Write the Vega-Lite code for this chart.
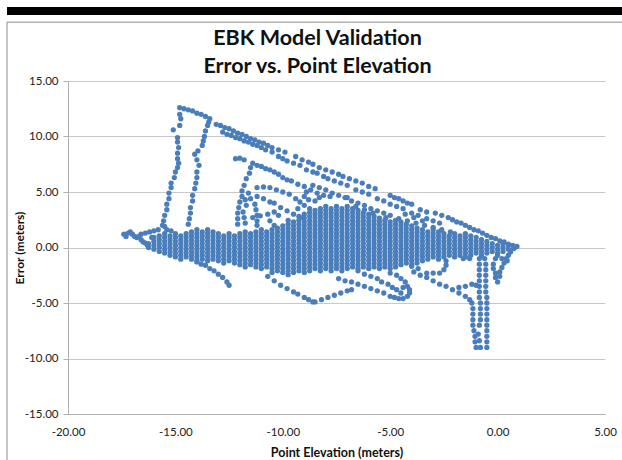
{"$schema":"https://vega.github.io/schema/vega-lite/v6.json","width":537,"height":333,"autosize":{"type":"none"},"padding":{"left":68,"top":81,"right":17,"bottom":46},"background":"white","config":{"view":{"stroke":null},"font":"Lato"},
"title":{"text":["EBK Model Validation","Error vs. Point Elevation"],"font":"Lato","fontSize":21.5,"fontWeight":"bold","color":"#111111","lineHeight":28,"anchor":"middle","dx":-19,"offset":-71},
"datasets":{"points":[
{"x":-17.4,"y":1.2},{"x":-17.3,"y":1},{"x":-17.2,"y":1.3},{"x":-17.1,"y":1.4},{"x":-17,"y":1.2},{"x":-16.9,"y":1},{"x":-16.8,"y":0.9},{"x":-16.7,"y":1},{"x":-16.6,"y":0.7},{"x":-16.5,"y":0.5},{"x":-16.4,"y":0.4},{"x":-16.3,"y":0.2},{"x":-16.6,"y":1.2},{"x":-16.4,"y":1.3},{"x":-16.2,"y":1.4},{"x":-16,"y":1.5},{"x":-15.8,"y":1.6},{"x":-15.6,"y":2},{"x":-15.5,"y":1.9},{"x":-15.4,"y":1.6},{"x":-15.2,"y":1.5},{"x":-16.1,"y":0.9},
{"x":-15.55,"y":2.4},{"x":-15.5,"y":2.9},{"x":-15.4,"y":3.4},{"x":-15.4,"y":3.9},{"x":-15.3,"y":4.4},{"x":-15.3,"y":4.9},{"x":-15.2,"y":5.4},{"x":-15.2,"y":5.8},{"x":-15.05,"y":6.3},{"x":-15,"y":6.8},{"x":-14.9,"y":7.2},{"x":-14.85,"y":7.6},{"x":-14.9,"y":8},{"x":-14.9,"y":8.5},{"x":-14.85,"y":9},{"x":-14.9,"y":9.5},{"x":-14.9,"y":9.9},{"x":-14.8,"y":11},{"x":-15.1,"y":10.6},{"x":-14.8,"y":12},{"x":-14.75,"y":11.6},
{"x":-14.4,"y":2.1},{"x":-14.35,"y":2.6},{"x":-14.3,"y":3.1},{"x":-14.3,"y":3.6},{"x":-14.2,"y":4.2},{"x":-14.2,"y":4.7},{"x":-14.1,"y":5.3},{"x":-14.05,"y":5.8},{"x":-14,"y":6.3},{"x":-14,"y":6.8},{"x":-13.9,"y":7.4},{"x":-14,"y":7.9},{"x":-14.1,"y":8.4},{"x":-13.95,"y":8.7},{"x":-13.75,"y":9.2},{"x":-13.7,"y":9.6},{"x":-13.65,"y":10},{"x":-13.6,"y":10.5},{"x":-13.5,"y":11},{"x":-13.45,"y":11.3},
{"x":-14.8,"y":12.6},{"x":-14.6,"y":12.5},{"x":-14.4,"y":12.4},{"x":-14.2,"y":12.3},{"x":-14,"y":12.1},{"x":-13.8,"y":12},{"x":-13.6,"y":11.8},{"x":-13.4,"y":11.6},{"x":-13.1,"y":11.1},{"x":-12.9,"y":11},{"x":-12.7,"y":10.8},{"x":-12.5,"y":10.7},{"x":-12.3,"y":10.5},{"x":-12.1,"y":10.3},{"x":-11.9,"y":10.2},{"x":-11.7,"y":10},{"x":-11.5,"y":9.8},{"x":-11.3,"y":9.7},{"x":-11.1,"y":9.5},{"x":-10.9,"y":9.4},{"x":-10.7,"y":9.2},{"x":-10.5,"y":9},{"x":-10.2,"y":8.8},{"x":-9.9,"y":8.6},{"x":-9.4,"y":8.2},{"x":-9.1,"y":7.9},{"x":-8.8,"y":7.7},{"x":-8.6,"y":7.5},{"x":-8.3,"y":7.2},{"x":-8,"y":7},{"x":-7.7,"y":6.8},{"x":-7.4,"y":6.6},{"x":-7.2,"y":6.4},{"x":-6.9,"y":6.2},{"x":-6.6,"y":6},{"x":-6.3,"y":5.8},{"x":-6,"y":5.5},{"x":-5.7,"y":5.3},{"x":-5,"y":4.7},{"x":-4.8,"y":4.5},{"x":-4.6,"y":4.4},{"x":-4.4,"y":4.2},{"x":-4.2,"y":4},{"x":-4,"y":3.9},{"x":-3.6,"y":3.4},{"x":-3.3,"y":3.2},{"x":-2.9,"y":3.1},{"x":-2.6,"y":2.9},{"x":-2.3,"y":2.7},{"x":-2.1,"y":2.5},{"x":-1.9,"y":2.3},{"x":-1.7,"y":2.2},{"x":-1.5,"y":2},{"x":-1.3,"y":1.8},{"x":-1.1,"y":1.6},{"x":-0.9,"y":1.5},{"x":-0.7,"y":1.3},{"x":-0.5,"y":1.1},{"x":-0.3,"y":0.9},{"x":-0.1,"y":0.8},{"x":0.1,"y":0.6},{"x":0.3,"y":0.5},{"x":0.5,"y":0.3},{"x":0.7,"y":0.2},{"x":0.9,"y":0.1},
{"x":-12.8,"y":10.4},{"x":-12.6,"y":10.2},{"x":-12.4,"y":10.1},{"x":-12.2,"y":9.9},{"x":-12,"y":9.8},{"x":-11.8,"y":9.6},{"x":-11.6,"y":9.5},{"x":-11.4,"y":9.3},{"x":-11.2,"y":9.2},{"x":-11,"y":9},{"x":-10.8,"y":8.8},{"x":-10.5,"y":8.6},{"x":-10.2,"y":8.2},{"x":-10,"y":8},{"x":-9.8,"y":7.8},{"x":-9.5,"y":7.6},{"x":-9.2,"y":7.4},{"x":-8.9,"y":7},{"x":-8.6,"y":6.8},{"x":-8.4,"y":6.7},{"x":-8.1,"y":6.4},{"x":-7.9,"y":6.2},{"x":-7.6,"y":6},{"x":-7.3,"y":5.8},{"x":-7,"y":5.6},{"x":-6.6,"y":5.2},{"x":-6.3,"y":5},{"x":-6,"y":4.8},{"x":-5.6,"y":4.4},{"x":-5.3,"y":4.2},{"x":-5,"y":3.9},{"x":-4.7,"y":3.7},{"x":-4.4,"y":3.5},{"x":-4,"y":3.1},{"x":-3.7,"y":2.9},{"x":-3.3,"y":2.6},{"x":-3,"y":2.4},{"x":-2.7,"y":2.2},
{"x":-12.2,"y":8},{"x":-12,"y":8.05},{"x":-11.8,"y":7.9},{"x":-11.4,"y":7.6},{"x":-11.2,"y":7.4},{"x":-11,"y":7.3},{"x":-10.8,"y":7.1},{"x":-10.6,"y":7},{"x":-10.4,"y":6.8},{"x":-10.2,"y":6.6},{"x":-10,"y":6.3},{"x":-9.8,"y":6.1},{"x":-9.6,"y":6},{"x":-9.3,"y":5.7},{"x":-9,"y":5.5},{"x":-8.7,"y":5.2},{"x":-8.4,"y":4.9},{"x":-8.1,"y":4.7},{"x":-7.8,"y":4.6},
{"x":-8.6,"y":5.6},{"x":-8.3,"y":5.4},{"x":-8,"y":5.2},{"x":-7.7,"y":4.9},{"x":-7.4,"y":4.7},{"x":-7.1,"y":4.5},{"x":-6.8,"y":4.2},{"x":-6.5,"y":4},{"x":-6.2,"y":3.8},{"x":-5.9,"y":3.5},{"x":-5.6,"y":3.3},{"x":-5.3,"y":3.1},{"x":-5,"y":2.9},{"x":-4.6,"y":2.6},
{"x":-11.5,"y":7.2},{"x":-11.55,"y":6.7},{"x":-11.7,"y":6.2},{"x":-11.8,"y":5.6},{"x":-11.9,"y":5.1},{"x":-11.9,"y":4.6},{"x":-12,"y":4.1},{"x":-12.05,"y":3.6},{"x":-12.1,"y":3.1},{"x":-12.1,"y":2.6},{"x":-12.1,"y":2.1},{"x":-11.85,"y":3.2},{"x":-11.8,"y":2.7},{"x":-11.75,"y":2.2},{"x":-11.75,"y":4.3},{"x":-11.7,"y":3.8},
{"x":-11.2,"y":5.4},{"x":-10.9,"y":5.45},{"x":-10.6,"y":5.4},{"x":-10.3,"y":5.2},{"x":-10,"y":5},{"x":-9.7,"y":4.8},{"x":-9.4,"y":4.4},{"x":-9.2,"y":4.1},
{"x":-11.6,"y":4.9},{"x":-11.5,"y":4.4},{"x":-11.3,"y":3.9},{"x":-11.25,"y":3.4},{"x":-11.2,"y":2.9},{"x":-11.2,"y":2.4},{"x":-11.2,"y":2},
{"x":-11.2,"y":4.6},{"x":-10.9,"y":4.4},{"x":-10.6,"y":4.1},{"x":-10.4,"y":4},{"x":-10.1,"y":3.6},{"x":-9.8,"y":3.3},{"x":-9.5,"y":3},{"x":-9.2,"y":2.7},
{"x":-10.7,"y":3},{"x":-11.05,"y":2.85},{"x":-11.4,"y":2.7},{"x":-10.4,"y":3.2},{"x":-10.2,"y":2.9},{"x":-10.6,"y":2.4},{"x":-10.4,"y":2},
{"x":-9.3,"y":3.5},{"x":-9,"y":3.8},{"x":-8.8,"y":4.3},{"x":-8.5,"y":4.2},{"x":-8.3,"y":4.5},{"x":-9,"y":4.6},{"x":-8.9,"y":5},{"x":-7,"y":4.5},{"x":-6.6,"y":3.7},{"x":-6.2,"y":3.4},{"x":-5.8,"y":3.1},{"x":-5.2,"y":2.7},{"x":-4.2,"y":2.4},{"x":-3.8,"y":2.2},{"x":-3.4,"y":2},{"x":-3,"y":1.8},{"x":-2.6,"y":1.6},{"x":-2.2,"y":1.4},{"x":-4.3,"y":3},{"x":-3.9,"y":2.7},{"x":-3.5,"y":2.4},
{"x":-14,"y":-1.3},{"x":-13.8,"y":-1.5},{"x":-13.6,"y":-1.6},{"x":-13.4,"y":-1.9},{"x":-13.2,"y":-2.1},{"x":-13,"y":-2.4},{"x":-12.8,"y":-2.7},{"x":-12.6,"y":-3.1},{"x":-12.5,"y":-3.4},
{"x":-10.7,"y":-2.6},{"x":-10.4,"y":-3},{"x":-10.1,"y":-3.4},{"x":-9.8,"y":-3.7},{"x":-9.5,"y":-4},{"x":-9.3,"y":-4.2},{"x":-9,"y":-4.5},{"x":-8.8,"y":-4.7},{"x":-8.6,"y":-4.9},{"x":-8.5,"y":-4.9},{"x":-8.2,"y":-4.7},{"x":-7.9,"y":-4.5},{"x":-7.6,"y":-4.3},{"x":-7.3,"y":-4.1},{"x":-7,"y":-3.9},{"x":-6.8,"y":-3.8},
{"x":-7.4,"y":-2.8},{"x":-7.1,"y":-3},{"x":-6.8,"y":-3.1},{"x":-6.5,"y":-3.3},{"x":-6.2,"y":-3.5},{"x":-5.9,"y":-3.7},{"x":-5.6,"y":-3.9},{"x":-5.3,"y":-4.1},{"x":-5,"y":-4.4},{"x":-4.8,"y":-4.5},{"x":-4.6,"y":-4.6},{"x":-4.4,"y":-4.6},{"x":-4.2,"y":-4.4},{"x":-4.1,"y":-4.1},{"x":-4.1,"y":-3.8},{"x":-4.2,"y":-3.5},{"x":-4.3,"y":-3.1},{"x":-4.5,"y":-2.8},{"x":-4.7,"y":-2.5},{"x":-5,"y":-2.3},{"x":-6.2,"y":-2.4},{"x":-5.9,"y":-2.6},{"x":-5.6,"y":-2.8},{"x":-5.4,"y":-3.1},{"x":-5.1,"y":-3.3},{"x":-4.9,"y":-3.6},{"x":-4.7,"y":-3.8},{"x":-4.5,"y":-4.1},{"x":-6.5,"y":-2.1},{"x":-4.4,"y":-3.6},
{"x":-3.9,"y":-2.2},{"x":-3.6,"y":-2.5},{"x":-3.3,"y":-2.7},{"x":-3,"y":-3},{"x":-2.7,"y":-3.3},{"x":-2.4,"y":-3.5},{"x":-2.1,"y":-3.8},{"x":-1.8,"y":-4.1},{"x":-1.5,"y":-4.4},{"x":-1.3,"y":-4.7},{"x":-1.2,"y":-5},{"x":-1.15,"y":-5.5},{"x":-1.15,"y":-6},{"x":-1.15,"y":-6.5},{"x":-1.15,"y":-7},{"x":-1.1,"y":-7.5},{"x":-1.05,"y":-8},{"x":-1.05,"y":-8.5},{"x":-1,"y":-9},{"x":-0.8,"y":-9},{"x":-0.85,"y":-8.4},{"x":-0.9,"y":-7.8},{"x":-0.85,"y":-7},{"x":-0.8,"y":-6.5},{"x":-0.8,"y":-6},{"x":-0.8,"y":-5.5},{"x":-0.8,"y":-5},
{"x":-0.5,"y":-9},{"x":-0.5,"y":-8.5},{"x":-0.5,"y":-8},{"x":-0.5,"y":-7.5},{"x":-0.5,"y":-7},{"x":-0.5,"y":-6.5},{"x":-0.5,"y":-6},{"x":-0.5,"y":-5.5},{"x":-0.5,"y":-5},{"x":-0.5,"y":-4.5},{"x":-0.55,"y":-4},{"x":-0.55,"y":-3.5},{"x":-0.55,"y":-3},{"x":-0.55,"y":-2.5},{"x":-0.55,"y":-2},{"x":-0.55,"y":-1.5},{"x":-0.6,"y":-1},{"x":-0.85,"y":-4.5},{"x":-0.85,"y":-4},{"x":-0.85,"y":-3.5},{"x":-0.85,"y":-3},{"x":-0.85,"y":-2.5},{"x":-0.85,"y":-2},{"x":-0.85,"y":-1.5},{"x":-0.85,"y":-1},
{"x":-1.8,"y":-3.6},{"x":-1.5,"y":-3.5},{"x":-1.2,"y":-3.3},{"x":-1,"y":-3.4},
{"x":-3.3,"y":-2.3},{"x":-3,"y":-2.3},{"x":-2.7,"y":-2.3},{"x":-2.5,"y":-2},{"x":-2.4,"y":-1.6},{"x":-2.4,"y":-1.2},{"x":-4,"y":-1.7},{"x":-3.7,"y":-1.9},{"x":-1.3,"y":-1},{"x":-1.6,"y":-1},
{"x":0,"y":-3.1},{"x":-0.1,"y":-2.7},{"x":-0.1,"y":-2.3},{"x":-0.2,"y":-1.9},{"x":-0.2,"y":-1.5},{"x":-0.1,"y":-1},{"x":0.1,"y":-2.6},{"x":0.1,"y":-2.2},{"x":0.2,"y":-1.8},{"x":0.3,"y":-1.4},{"x":0.4,"y":-1},{"x":0.45,"y":-1.2},{"x":0.5,"y":-0.7},{"x":0.6,"y":-0.4},{"x":0,"y":-0.7},{"x":0.2,"y":-1},{"x":0.8,"y":0},
{"x":-16.25,"y":0},{"x":-16.25,"y":0.35},
{"x":-16,"y":-0.15},{"x":-16,"y":0.2},{"x":-16,"y":0.55},{"x":-16,"y":0.9},
{"x":-15.75,"y":-0.35},{"x":-15.75,"y":0},{"x":-15.75,"y":0.35},{"x":-15.75,"y":0.7},{"x":-15.75,"y":1.05},
{"x":-15.5,"y":-0.5},{"x":-15.5,"y":-0.15},{"x":-15.5,"y":0.2},{"x":-15.5,"y":0.55},{"x":-15.5,"y":0.9},{"x":-15.5,"y":1.25},
{"x":-15.25,"y":-0.7},{"x":-15.25,"y":-0.35},{"x":-15.25,"y":0},{"x":-15.25,"y":0.35},{"x":-15.25,"y":0.7},{"x":-15.25,"y":1.05},
{"x":-15,"y":-0.85},{"x":-15,"y":-0.5},{"x":-15,"y":-0.15},{"x":-15,"y":0.2},{"x":-15,"y":0.55},{"x":-15,"y":0.9},{"x":-15,"y":1.25},
{"x":-14.75,"y":-1.05},{"x":-14.75,"y":-0.7},{"x":-14.75,"y":-0.35},{"x":-14.75,"y":0},{"x":-14.75,"y":0.35},{"x":-14.75,"y":0.7},{"x":-14.75,"y":1.05},
{"x":-14.5,"y":-0.85},{"x":-14.5,"y":-0.5},{"x":-14.5,"y":-0.15},{"x":-14.5,"y":0.2},{"x":-14.5,"y":0.55},{"x":-14.5,"y":0.9},{"x":-14.5,"y":1.25},
{"x":-14.25,"y":-1.05},{"x":-14.25,"y":-0.7},{"x":-14.25,"y":-0.35},{"x":-14.25,"y":0},{"x":-14.25,"y":0.35},{"x":-14.25,"y":0.7},{"x":-14.25,"y":1.05},{"x":-14.25,"y":1.4},
{"x":-14,"y":-1.2},{"x":-14,"y":-0.85},{"x":-14,"y":-0.5},{"x":-14,"y":-0.15},{"x":-14,"y":0.2},{"x":-14,"y":0.55},{"x":-14,"y":0.9},{"x":-14,"y":1.25},{"x":-14,"y":1.6},
{"x":-13.75,"y":-1.05},{"x":-13.75,"y":-0.7},{"x":-13.75,"y":-0.35},{"x":-13.75,"y":0},{"x":-13.75,"y":0.35},{"x":-13.75,"y":0.7},{"x":-13.75,"y":1.05},{"x":-13.75,"y":1.4},
{"x":-13.5,"y":-1.2},{"x":-13.5,"y":-0.85},{"x":-13.5,"y":-0.5},{"x":-13.5,"y":-0.15},{"x":-13.5,"y":0.2},{"x":-13.5,"y":0.55},{"x":-13.5,"y":0.9},{"x":-13.5,"y":1.25},{"x":-13.5,"y":1.6},
{"x":-13.25,"y":-1.05},{"x":-13.25,"y":-0.7},{"x":-13.25,"y":-0.35},{"x":-13.25,"y":0},{"x":-13.25,"y":0.35},{"x":-13.25,"y":0.7},{"x":-13.25,"y":1.05},{"x":-13.25,"y":1.4},
{"x":-13,"y":-1.2},{"x":-13,"y":-0.85},{"x":-13,"y":-0.5},{"x":-13,"y":-0.15},{"x":-13,"y":0.2},{"x":-13,"y":0.55},{"x":-13,"y":0.9},{"x":-13,"y":1.25},
{"x":-12.75,"y":-1.4},{"x":-12.75,"y":-1.05},{"x":-12.75,"y":-0.7},{"x":-12.75,"y":-0.35},{"x":-12.75,"y":0},{"x":-12.75,"y":0.35},{"x":-12.75,"y":0.7},{"x":-12.75,"y":1.05},
{"x":-12.5,"y":-1.2},{"x":-12.5,"y":-0.85},{"x":-12.5,"y":-0.5},{"x":-12.5,"y":-0.15},{"x":-12.5,"y":0.2},{"x":-12.5,"y":0.55},{"x":-12.5,"y":0.9},{"x":-12.5,"y":1.25},
{"x":-12.25,"y":-1.4},{"x":-12.25,"y":-1.05},{"x":-12.25,"y":-0.7},{"x":-12.25,"y":-0.35},{"x":-12.25,"y":0},{"x":-12.25,"y":0.35},{"x":-12.25,"y":0.7},{"x":-12.25,"y":1.05},
{"x":-12,"y":-1.55},{"x":-12,"y":-1.2},{"x":-12,"y":-0.85},{"x":-12,"y":-0.5},{"x":-12,"y":-0.15},{"x":-12,"y":0.2},{"x":-12,"y":0.55},{"x":-12,"y":0.9},{"x":-12,"y":1.25},
{"x":-11.75,"y":-1.75},{"x":-11.75,"y":-1.4},{"x":-11.75,"y":-1.05},{"x":-11.75,"y":-0.7},{"x":-11.75,"y":-0.35},{"x":-11.75,"y":0},{"x":-11.75,"y":0.35},{"x":-11.75,"y":0.7},{"x":-11.75,"y":1.05},{"x":-11.75,"y":1.4},
{"x":-11.5,"y":-1.55},{"x":-11.5,"y":-1.2},{"x":-11.5,"y":-0.85},{"x":-11.5,"y":-0.5},{"x":-11.5,"y":-0.15},{"x":-11.5,"y":0.2},{"x":-11.5,"y":0.55},{"x":-11.5,"y":0.9},{"x":-11.5,"y":1.25},
{"x":-11.25,"y":-1.75},{"x":-11.25,"y":-1.4},{"x":-11.25,"y":-1.05},{"x":-11.25,"y":-0.7},{"x":-11.25,"y":-0.35},{"x":-11.25,"y":0},{"x":-11.25,"y":0.35},{"x":-11.25,"y":0.7},{"x":-11.25,"y":1.05},{"x":-11.25,"y":1.4},
{"x":-11,"y":-1.9},{"x":-11,"y":-1.55},{"x":-11,"y":-1.2},{"x":-11,"y":-0.85},{"x":-11,"y":-0.5},{"x":-11,"y":-0.15},{"x":-11,"y":0.2},{"x":-11,"y":0.55},{"x":-11,"y":0.9},{"x":-11,"y":1.25},{"x":-11,"y":1.6},
{"x":-10.75,"y":-1.75},{"x":-10.75,"y":-1.4},{"x":-10.75,"y":-1.05},{"x":-10.75,"y":-0.7},{"x":-10.75,"y":-0.35},{"x":-10.75,"y":0},{"x":-10.75,"y":0.35},{"x":-10.75,"y":0.7},{"x":-10.75,"y":1.05},{"x":-10.75,"y":1.4},
{"x":-10.5,"y":-2.25},{"x":-10.5,"y":-1.9},{"x":-10.5,"y":-1.55},{"x":-10.5,"y":-1.2},{"x":-10.5,"y":-0.85},{"x":-10.5,"y":-0.5},{"x":-10.5,"y":-0.15},{"x":-10.5,"y":0.2},{"x":-10.5,"y":0.55},{"x":-10.5,"y":0.9},{"x":-10.5,"y":1.25},{"x":-10.5,"y":1.6},
{"x":-10.25,"y":-2.1},{"x":-10.25,"y":-1.75},{"x":-10.25,"y":-1.4},{"x":-10.25,"y":-1.05},{"x":-10.25,"y":-0.7},{"x":-10.25,"y":-0.35},{"x":-10.25,"y":0},{"x":-10.25,"y":0.35},{"x":-10.25,"y":0.7},{"x":-10.25,"y":1.05},{"x":-10.25,"y":1.4},{"x":-10.25,"y":1.75},
{"x":-10,"y":-2.25},{"x":-10,"y":-1.9},{"x":-10,"y":-1.55},{"x":-10,"y":-1.2},{"x":-10,"y":-0.85},{"x":-10,"y":-0.5},{"x":-10,"y":-0.15},{"x":-10,"y":0.2},{"x":-10,"y":0.55},{"x":-10,"y":0.9},{"x":-10,"y":1.25},{"x":-10,"y":1.6},{"x":-10,"y":1.95},
{"x":-9.75,"y":-2.45},{"x":-9.75,"y":-2.1},{"x":-9.75,"y":-1.75},{"x":-9.75,"y":-1.4},{"x":-9.75,"y":-1.05},{"x":-9.75,"y":-0.7},{"x":-9.75,"y":-0.35},{"x":-9.75,"y":0},{"x":-9.75,"y":0.35},{"x":-9.75,"y":0.7},{"x":-9.75,"y":1.05},{"x":-9.75,"y":1.4},{"x":-9.75,"y":1.75},{"x":-9.75,"y":2.1},{"x":-9.75,"y":2.45},
{"x":-9.5,"y":-2.25},{"x":-9.5,"y":-1.9},{"x":-9.5,"y":-1.55},{"x":-9.5,"y":-1.2},{"x":-9.5,"y":-0.85},{"x":-9.5,"y":-0.5},{"x":-9.5,"y":-0.15},{"x":-9.5,"y":0.2},{"x":-9.5,"y":0.55},{"x":-9.5,"y":0.9},{"x":-9.5,"y":1.25},{"x":-9.5,"y":1.6},{"x":-9.5,"y":1.95},{"x":-9.5,"y":2.3},
{"x":-9.25,"y":-2.1},{"x":-9.25,"y":-1.75},{"x":-9.25,"y":-1.4},{"x":-9.25,"y":-1.05},{"x":-9.25,"y":-0.7},{"x":-9.25,"y":-0.35},{"x":-9.25,"y":0},{"x":-9.25,"y":0.35},{"x":-9.25,"y":0.7},{"x":-9.25,"y":1.05},{"x":-9.25,"y":1.4},{"x":-9.25,"y":1.75},{"x":-9.25,"y":2.1},{"x":-9.25,"y":2.45},{"x":-9.25,"y":2.8},
{"x":-9,"y":-2.25},{"x":-9,"y":-1.9},{"x":-9,"y":-1.55},{"x":-9,"y":-1.2},{"x":-9,"y":-0.85},{"x":-9,"y":-0.5},{"x":-9,"y":-0.15},{"x":-9,"y":0.2},{"x":-9,"y":0.55},{"x":-9,"y":0.9},{"x":-9,"y":1.25},{"x":-9,"y":1.6},{"x":-9,"y":1.95},{"x":-9,"y":2.3},{"x":-9,"y":2.65},{"x":-9,"y":3},
{"x":-8.75,"y":-2.1},{"x":-8.75,"y":-1.75},{"x":-8.75,"y":-1.4},{"x":-8.75,"y":-1.05},{"x":-8.75,"y":-0.7},{"x":-8.75,"y":-0.35},{"x":-8.75,"y":0},{"x":-8.75,"y":0.35},{"x":-8.75,"y":0.7},{"x":-8.75,"y":1.05},{"x":-8.75,"y":1.4},{"x":-8.75,"y":1.75},{"x":-8.75,"y":2.1},{"x":-8.75,"y":2.45},{"x":-8.75,"y":2.8},{"x":-8.75,"y":3.15},{"x":-8.75,"y":3.5},
{"x":-8.5,"y":-1.9},{"x":-8.5,"y":-1.55},{"x":-8.5,"y":-1.2},{"x":-8.5,"y":-0.85},{"x":-8.5,"y":-0.5},{"x":-8.5,"y":-0.15},{"x":-8.5,"y":0.2},{"x":-8.5,"y":0.55},{"x":-8.5,"y":0.9},{"x":-8.5,"y":1.25},{"x":-8.5,"y":1.6},{"x":-8.5,"y":1.95},{"x":-8.5,"y":2.3},{"x":-8.5,"y":2.65},{"x":-8.5,"y":3},{"x":-8.5,"y":3.35},
{"x":-8.25,"y":-2.1},{"x":-8.25,"y":-1.75},{"x":-8.25,"y":-1.4},{"x":-8.25,"y":-1.05},{"x":-8.25,"y":-0.7},{"x":-8.25,"y":-0.35},{"x":-8.25,"y":0},{"x":-8.25,"y":0.35},{"x":-8.25,"y":0.7},{"x":-8.25,"y":1.05},{"x":-8.25,"y":1.4},{"x":-8.25,"y":1.75},{"x":-8.25,"y":2.1},{"x":-8.25,"y":2.45},{"x":-8.25,"y":2.8},{"x":-8.25,"y":3.15},{"x":-8.25,"y":3.5},
{"x":-8,"y":-1.9},{"x":-8,"y":-1.55},{"x":-8,"y":-1.2},{"x":-8,"y":-0.85},{"x":-8,"y":-0.5},{"x":-8,"y":-0.15},{"x":-8,"y":0.2},{"x":-8,"y":0.55},{"x":-8,"y":0.9},{"x":-8,"y":1.25},{"x":-8,"y":1.6},{"x":-8,"y":1.95},{"x":-8,"y":2.3},{"x":-8,"y":2.65},{"x":-8,"y":3},{"x":-8,"y":3.35},{"x":-8,"y":3.7},
{"x":-7.75,"y":-2.1},{"x":-7.75,"y":-1.75},{"x":-7.75,"y":-1.4},{"x":-7.75,"y":-1.05},{"x":-7.75,"y":-0.7},{"x":-7.75,"y":-0.35},{"x":-7.75,"y":0},{"x":-7.75,"y":0.35},{"x":-7.75,"y":0.7},{"x":-7.75,"y":1.05},{"x":-7.75,"y":1.4},{"x":-7.75,"y":1.75},{"x":-7.75,"y":2.1},{"x":-7.75,"y":2.45},{"x":-7.75,"y":2.8},{"x":-7.75,"y":3.15},{"x":-7.75,"y":3.5},
{"x":-7.5,"y":-1.9},{"x":-7.5,"y":-1.55},{"x":-7.5,"y":-1.2},{"x":-7.5,"y":-0.85},{"x":-7.5,"y":-0.5},{"x":-7.5,"y":-0.15},{"x":-7.5,"y":0.2},{"x":-7.5,"y":0.55},{"x":-7.5,"y":0.9},{"x":-7.5,"y":1.25},{"x":-7.5,"y":1.6},{"x":-7.5,"y":1.95},{"x":-7.5,"y":2.3},{"x":-7.5,"y":2.65},{"x":-7.5,"y":3},{"x":-7.5,"y":3.35},{"x":-7.5,"y":3.7},
{"x":-7.25,"y":-2.1},{"x":-7.25,"y":-1.75},{"x":-7.25,"y":-1.4},{"x":-7.25,"y":-1.05},{"x":-7.25,"y":-0.7},{"x":-7.25,"y":-0.35},{"x":-7.25,"y":0},{"x":-7.25,"y":0.35},{"x":-7.25,"y":0.7},{"x":-7.25,"y":1.05},{"x":-7.25,"y":1.4},{"x":-7.25,"y":1.75},{"x":-7.25,"y":2.1},{"x":-7.25,"y":2.45},{"x":-7.25,"y":2.8},{"x":-7.25,"y":3.15},{"x":-7.25,"y":3.5},
{"x":-7,"y":-1.9},{"x":-7,"y":-1.55},{"x":-7,"y":-1.2},{"x":-7,"y":-0.85},{"x":-7,"y":-0.5},{"x":-7,"y":-0.15},{"x":-7,"y":0.2},{"x":-7,"y":0.55},{"x":-7,"y":0.9},{"x":-7,"y":1.25},{"x":-7,"y":1.6},{"x":-7,"y":1.95},{"x":-7,"y":2.3},{"x":-7,"y":2.65},{"x":-7,"y":3},{"x":-7,"y":3.35},{"x":-7,"y":3.7},
{"x":-6.75,"y":-1.75},{"x":-6.75,"y":-1.4},{"x":-6.75,"y":-1.05},{"x":-6.75,"y":-0.7},{"x":-6.75,"y":-0.35},{"x":-6.75,"y":0},{"x":-6.75,"y":0.35},{"x":-6.75,"y":0.7},{"x":-6.75,"y":1.05},{"x":-6.75,"y":1.4},{"x":-6.75,"y":1.75},{"x":-6.75,"y":2.1},{"x":-6.75,"y":2.45},{"x":-6.75,"y":2.8},{"x":-6.75,"y":3.15},{"x":-6.75,"y":3.5},
{"x":-6.5,"y":-1.9},{"x":-6.5,"y":-1.55},{"x":-6.5,"y":-1.2},{"x":-6.5,"y":-0.85},{"x":-6.5,"y":-0.5},{"x":-6.5,"y":-0.15},{"x":-6.5,"y":0.2},{"x":-6.5,"y":0.55},{"x":-6.5,"y":0.9},{"x":-6.5,"y":1.25},{"x":-6.5,"y":1.6},{"x":-6.5,"y":1.95},{"x":-6.5,"y":2.3},{"x":-6.5,"y":2.65},{"x":-6.5,"y":3},{"x":-6.5,"y":3.35},
{"x":-6.25,"y":-1.75},{"x":-6.25,"y":-1.4},{"x":-6.25,"y":-1.05},{"x":-6.25,"y":-0.7},{"x":-6.25,"y":-0.35},{"x":-6.25,"y":0},{"x":-6.25,"y":0.35},{"x":-6.25,"y":0.7},{"x":-6.25,"y":1.05},{"x":-6.25,"y":1.4},{"x":-6.25,"y":1.75},{"x":-6.25,"y":2.1},{"x":-6.25,"y":2.45},{"x":-6.25,"y":2.8},{"x":-6.25,"y":3.15},
{"x":-6,"y":-1.9},{"x":-6,"y":-1.55},{"x":-6,"y":-1.2},{"x":-6,"y":-0.85},{"x":-6,"y":-0.5},{"x":-6,"y":-0.15},{"x":-6,"y":0.2},{"x":-6,"y":0.55},{"x":-6,"y":0.9},{"x":-6,"y":1.25},{"x":-6,"y":1.6},{"x":-6,"y":1.95},{"x":-6,"y":2.3},{"x":-6,"y":2.65},{"x":-6,"y":3},
{"x":-5.75,"y":-1.75},{"x":-5.75,"y":-1.4},{"x":-5.75,"y":-1.05},{"x":-5.75,"y":-0.7},{"x":-5.75,"y":-0.35},{"x":-5.75,"y":0},{"x":-5.75,"y":0.35},{"x":-5.75,"y":0.7},{"x":-5.75,"y":1.05},{"x":-5.75,"y":1.4},{"x":-5.75,"y":1.75},{"x":-5.75,"y":2.1},{"x":-5.75,"y":2.45},{"x":-5.75,"y":2.8},
{"x":-5.5,"y":-1.9},{"x":-5.5,"y":-1.55},{"x":-5.5,"y":-1.2},{"x":-5.5,"y":-0.85},{"x":-5.5,"y":-0.5},{"x":-5.5,"y":-0.15},{"x":-5.5,"y":0.2},{"x":-5.5,"y":0.55},{"x":-5.5,"y":0.9},{"x":-5.5,"y":1.25},{"x":-5.5,"y":1.6},{"x":-5.5,"y":1.95},{"x":-5.5,"y":2.3},{"x":-5.5,"y":2.65},
{"x":-5.25,"y":-1.75},{"x":-5.25,"y":-1.4},{"x":-5.25,"y":-1.05},{"x":-5.25,"y":-0.7},{"x":-5.25,"y":-0.35},{"x":-5.25,"y":0},{"x":-5.25,"y":0.35},{"x":-5.25,"y":0.7},{"x":-5.25,"y":1.05},{"x":-5.25,"y":1.4},{"x":-5.25,"y":1.75},{"x":-5.25,"y":2.1},{"x":-5.25,"y":2.45},
{"x":-5,"y":-1.9},{"x":-5,"y":-1.55},{"x":-5,"y":-1.2},{"x":-5,"y":-0.85},{"x":-5,"y":-0.5},{"x":-5,"y":-0.15},{"x":-5,"y":0.2},{"x":-5,"y":0.55},{"x":-5,"y":0.9},{"x":-5,"y":1.25},{"x":-5,"y":1.6},{"x":-5,"y":1.95},{"x":-5,"y":2.3},
{"x":-4.75,"y":-1.75},{"x":-4.75,"y":-1.4},{"x":-4.75,"y":-1.05},{"x":-4.75,"y":-0.7},{"x":-4.75,"y":-0.35},{"x":-4.75,"y":0},{"x":-4.75,"y":0.35},{"x":-4.75,"y":0.7},{"x":-4.75,"y":1.05},{"x":-4.75,"y":1.4},{"x":-4.75,"y":1.75},{"x":-4.75,"y":2.1},{"x":-4.75,"y":2.45},
{"x":-4.5,"y":-1.55},{"x":-4.5,"y":-1.2},{"x":-4.5,"y":-0.85},{"x":-4.5,"y":-0.5},{"x":-4.5,"y":-0.15},{"x":-4.5,"y":0.2},{"x":-4.5,"y":0.55},{"x":-4.5,"y":0.9},{"x":-4.5,"y":1.25},{"x":-4.5,"y":1.6},{"x":-4.5,"y":1.95},{"x":-4.5,"y":2.3},
{"x":-4.25,"y":-1.4},{"x":-4.25,"y":-1.05},{"x":-4.25,"y":-0.7},{"x":-4.25,"y":-0.35},{"x":-4.25,"y":0},{"x":-4.25,"y":0.35},{"x":-4.25,"y":0.7},{"x":-4.25,"y":1.05},{"x":-4.25,"y":1.4},{"x":-4.25,"y":1.75},{"x":-4.25,"y":2.1},
{"x":-4,"y":-1.55},{"x":-4,"y":-1.2},{"x":-4,"y":-0.85},{"x":-4,"y":-0.5},{"x":-4,"y":-0.15},{"x":-4,"y":0.2},{"x":-4,"y":0.55},{"x":-4,"y":0.9},{"x":-4,"y":1.25},{"x":-4,"y":1.6},{"x":-4,"y":1.95},
{"x":-3.75,"y":-1.4},{"x":-3.75,"y":-1.05},{"x":-3.75,"y":-0.7},{"x":-3.75,"y":-0.35},{"x":-3.75,"y":0},{"x":-3.75,"y":0.35},{"x":-3.75,"y":0.7},{"x":-3.75,"y":1.05},{"x":-3.75,"y":1.4},{"x":-3.75,"y":1.75},
{"x":-3.5,"y":-1.2},{"x":-3.5,"y":-0.85},{"x":-3.5,"y":-0.5},{"x":-3.5,"y":-0.15},{"x":-3.5,"y":0.2},{"x":-3.5,"y":0.55},{"x":-3.5,"y":0.9},{"x":-3.5,"y":1.25},{"x":-3.5,"y":1.6},
{"x":-3.25,"y":-1.05},{"x":-3.25,"y":-0.7},{"x":-3.25,"y":-0.35},{"x":-3.25,"y":0},{"x":-3.25,"y":0.35},{"x":-3.25,"y":0.7},{"x":-3.25,"y":1.05},{"x":-3.25,"y":1.4},
{"x":-3,"y":-0.85},{"x":-3,"y":-0.5},{"x":-3,"y":-0.15},{"x":-3,"y":0.2},{"x":-3,"y":0.55},{"x":-3,"y":0.9},{"x":-3,"y":1.25},{"x":-3,"y":1.6},
{"x":-2.75,"y":-1.05},{"x":-2.75,"y":-0.7},{"x":-2.75,"y":-0.35},{"x":-2.75,"y":0},{"x":-2.75,"y":0.35},{"x":-2.75,"y":0.7},{"x":-2.75,"y":1.05},{"x":-2.75,"y":1.4},
{"x":-2.5,"y":-0.85},{"x":-2.5,"y":-0.5},{"x":-2.5,"y":-0.15},{"x":-2.5,"y":0.2},{"x":-2.5,"y":0.55},{"x":-2.5,"y":0.9},{"x":-2.5,"y":1.25},
{"x":-2.25,"y":-0.7},{"x":-2.25,"y":-0.35},{"x":-2.25,"y":0},{"x":-2.25,"y":0.35},{"x":-2.25,"y":0.7},{"x":-2.25,"y":1.05},
{"x":-2,"y":-0.85},{"x":-2,"y":-0.5},{"x":-2,"y":-0.15},{"x":-2,"y":0.2},{"x":-2,"y":0.55},{"x":-2,"y":0.9},{"x":-2,"y":1.25},
{"x":-1.75,"y":-0.7},{"x":-1.75,"y":-0.35},{"x":-1.75,"y":0},{"x":-1.75,"y":0.35},{"x":-1.75,"y":0.7},{"x":-1.75,"y":1.05},
{"x":-1.5,"y":-0.85},{"x":-1.5,"y":-0.5},{"x":-1.5,"y":-0.15},{"x":-1.5,"y":0.2},{"x":-1.5,"y":0.55},{"x":-1.5,"y":0.9},{"x":-1.5,"y":1.25},
{"x":-1.25,"y":-0.7},{"x":-1.25,"y":-0.35},{"x":-1.25,"y":0},{"x":-1.25,"y":0.35},{"x":-1.25,"y":0.7},{"x":-1.25,"y":1.05},
{"x":-1,"y":-0.5},{"x":-1,"y":-0.15},{"x":-1,"y":0.2},{"x":-1,"y":0.55},{"x":-1,"y":0.9},
{"x":-0.75,"y":-0.7},{"x":-0.75,"y":-0.35},{"x":-0.75,"y":0},{"x":-0.75,"y":0.35},{"x":-0.75,"y":0.7},
{"x":-0.5,"y":-0.5},{"x":-0.5,"y":-0.15},{"x":-0.5,"y":0.2},{"x":-0.5,"y":0.55},
{"x":-0.25,"y":-0.35},{"x":-0.25,"y":0},{"x":-0.25,"y":0.35},
{"x":0,"y":-0.5},{"x":0,"y":-0.15},{"x":0,"y":0.2},
{"x":0.25,"y":-0.35},{"x":0.25,"y":0},{"x":0.25,"y":0.35},
{"x":0.5,"y":-0.15},{"x":0.5,"y":0.2},
{"x":0.75,"y":-0.1},{"x":0.75,"y":0.1}
]},
"layer":[
{"data":{"values":[{}]},"mark":{"type":"rect","color":"#000000"},"encoding":{"x":{"datum":-22.84,"type":"quantitative","scale":{"domain":[-20,5],"nice":false,"zero":false},"axis":{"values":[-20,-15,-10,-5,0,5],"format":".2f","labelExpr":"replace(datum.label,'\u2212','-')","title":"Point Elevation (meters)","grid":false,"domainColor":"#b0b0b0","ticks":false,"labelFontSize":11.5,"labelColor":"#222222","labelFont":"Lato","labelBound":false,"labelFlush":false,"labelOverlap":false,"labelPadding":12,"titleFont":"Lato","titleFontSize":12.5,"titleFontWeight":"bold","titleColor":"#111111","titlePadding":9}},"x2":{"datum":5.8},"y":{"datum":21.67,"type":"quantitative","scale":{"domain":[-15,15],"nice":false,"zero":false},"axis":{"values":[-15,-10,-5,0,5,10,15],"format":".2f","labelExpr":"replace(datum.label,'\u2212','-')","title":"Error (meters)","grid":true,"gridColor":"#c8c8c8","domainColor":"#b0b0b0","tickColor":"#b0b0b0","tickSize":5,"labelFontSize":11.5,"labelColor":"#222222","labelFont":"Lato","labelPadding":5,"titleFont":"Lato","titleFontSize":12,"titleFontWeight":"bold","titleColor":"#111111","titlePadding":-2}},"y2":{"datum":20.95}}},
{"data":{"values":[{}]},"mark":{"type":"rule","color":"#8c8c8c","strokeWidth":1},"encoding":{"x":{"datum":-22.84,"type":"quantitative"},"x2":{"datum":5.8},"y":{"datum":20.3,"type":"quantitative"}}},
{"data":{"values":[{}]},"mark":{"type":"rule","color":"#8c8c8c","strokeWidth":1},"encoding":{"x":{"datum":-22.84,"type":"quantitative"},"y":{"datum":20.3,"type":"quantitative"},"y2":{"datum":-19.2}}},
{"data":{"name":"points"},"mark":{"type":"point","shape":"circle","filled":true,"size":28,"color":"#4a7ebb","opacity":1},"encoding":{"x":{"field":"x","type":"quantitative"},"y":{"field":"y","type":"quantitative"}}}
]}
